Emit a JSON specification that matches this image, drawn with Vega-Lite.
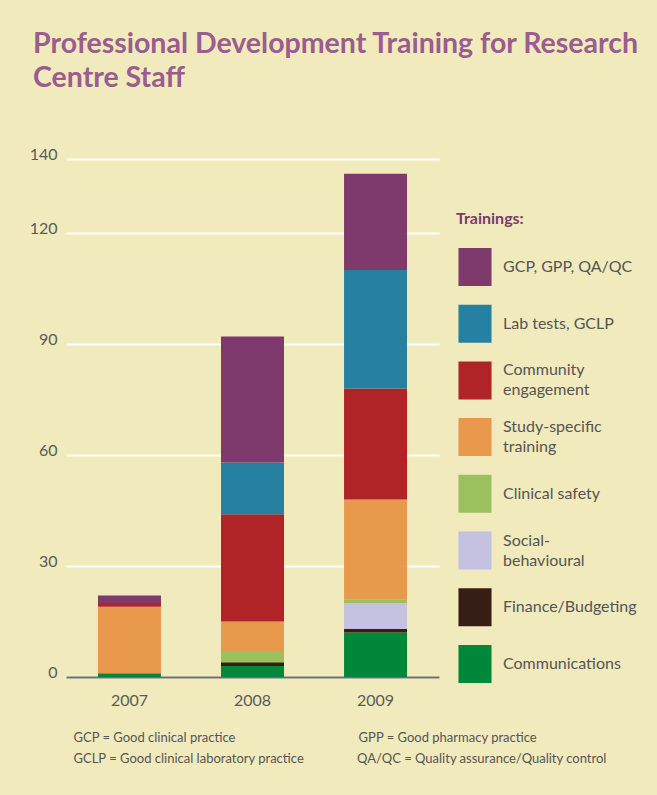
{
  "$schema": "https://vega.github.io/schema/vega-lite/v6.json",
  "width": 373,
  "height": 518,
  "autosize": {"type": "none"},
  "padding": {"left": 66, "top": 159, "right": 218, "bottom": 118},
  "background": "#F1EABD",
  "title": {
    "text": ["Professional Development Training for Research", "Centre Staff"],
    "anchor": "start",
    "frame": "group",
    "dx": -33,
    "offset": 54,
    "font": "Lato",
    "fontSize": 28.5,
    "fontWeight": "bold",
    "color": "#9B5C8F",
    "lineHeight": 34
  },
  "data": {
    "values": [
      {"year": "2007", "training": "Communications", "count": 1},
      {"year": "2007", "training": "Finance/Budgeting", "count": 0},
      {"year": "2007", "training": "Social-behavioural", "count": 0},
      {"year": "2007", "training": "Clinical safety", "count": 0},
      {"year": "2007", "training": "Study-specific training", "count": 18},
      {"year": "2007", "training": "Community engagement", "count": 1},
      {"year": "2007", "training": "Lab tests, GCLP", "count": 0},
      {"year": "2007", "training": "GCP, GPP, QA/QC", "count": 2},
      {"year": "2008", "training": "Communications", "count": 3},
      {"year": "2008", "training": "Finance/Budgeting", "count": 1},
      {"year": "2008", "training": "Social-behavioural", "count": 0},
      {"year": "2008", "training": "Clinical safety", "count": 3},
      {"year": "2008", "training": "Study-specific training", "count": 8},
      {"year": "2008", "training": "Community engagement", "count": 29},
      {"year": "2008", "training": "Lab tests, GCLP", "count": 14},
      {"year": "2008", "training": "GCP, GPP, QA/QC", "count": 34},
      {"year": "2009", "training": "Communications", "count": 12},
      {"year": "2009", "training": "Finance/Budgeting", "count": 1},
      {"year": "2009", "training": "Social-behavioural", "count": 7},
      {"year": "2009", "training": "Clinical safety", "count": 1},
      {"year": "2009", "training": "Study-specific training", "count": 27},
      {"year": "2009", "training": "Community engagement", "count": 30},
      {"year": "2009", "training": "Lab tests, GCLP", "count": 32},
      {"year": "2009", "training": "GCP, GPP, QA/QC", "count": 26}
    ]
  },
  "transform": [
    {"calculate": "indexof(['Communications','Finance/Budgeting','Social-behavioural','Clinical safety','Study-specific training','Community engagement','Lab tests, GCLP','GCP, GPP, QA/QC'], datum.training)", "as": "stackOrder"}
  ],
  "mark": {"type": "bar"},
  "encoding": {
    "x": {
      "field": "year",
      "type": "nominal",
      "scale": {"paddingInner": 0.488, "paddingOuter": 0.26},
      "axis": {
        "title": ["GCP = Good clinical practice\u00a0\u00a0\u00a0\u00a0\u00a0\u00a0\u00a0\u00a0\u00a0\u00a0\u00a0\u00a0\u00a0\u00a0\u00a0\u00a0\u00a0\u00a0\u00a0\u00a0\u00a0\u00a0\u00a0\u00a0\u00a0\u00a0\u00a0\u00a0\u00a0\u00a0\u00a0\u00a0\u00a0\u00a0\u00a0\u00a0\u00a0GPP = Good pharmacy practice", "GCLP = Good clinical laboratory practice\u00a0\u00a0\u00a0\u00a0\u00a0\u00a0\u00a0\u00a0\u00a0\u00a0\u00a0\u00a0\u00a0\u00a0\u00a0\u00a0QA/QC = Quality assurance/Quality control"],
        "labelAngle": 0,
        "labelFont": "Lato",
        "labelFontSize": 16,
        "labelColor": "#5a5a5a",
        "labelPadding": 15,
        "ticks": false,
        "grid": false,
        "domainColor": "#6d6d6d",
        "domainWidth": 2,
        "titleFont": "Lato",
        "titleFontSize": 13,
        "titleFontWeight": "normal",
        "titleColor": "#555555",
        "titleAnchor": "start",
        "titleAlign": "left",
        "titleBaseline": "top",
        "titleX": 7,
        "titleY": 54,
        "titleLineHeight": 21
      }
    },
    "y": {
      "field": "count",
      "type": "quantitative",
      "stack": "zero",
      "scale": {"domain": [0, 140]},
      "axis": {
        "title": null,
        "values": [0, 30, 60, 90, 120, 140],
        "grid": true,
        "gridColor": "white",
        "gridWidth": 2,
        "domain": false,
        "ticks": false,
        "labelFont": "Lato",
        "labelFontSize": 16,
        "labelColor": "#5a5a5a",
        "labelPadding": 9,
        "labelBaseline": "alphabetic"
      }
    },
    "color": {
      "field": "training",
      "type": "nominal",
      "scale": {
        "domain": ["GCP, GPP, QA/QC", "Lab tests, GCLP", "Community engagement", "Study-specific training", "Clinical safety", "Social-behavioural", "Finance/Budgeting", "Communications"],
        "range": ["#7E3A6D", "#2580A2", "#B02327", "#E9994C", "#9AC15D", "#C4C2E0", "#371E15", "#00873A"]
      },
      "legend": {
        "orient": "none",
        "legendX": 390,
        "legendY": 52,
        "padding": 0,
        "title": "Trainings:",
        "titleFont": "Lato",
        "titleFontSize": 16,
        "titleFontWeight": "bold",
        "titleColor": "#7B3A6B",
        "titlePadding": 21,
        "symbolType": "M-0.87,-1L0.87,-1L0.87,1L-0.87,1Z",
        "symbolSize": 1444,
        "symbolStrokeWidth": 0,
        "symbolOpacity": 1,
        "labelFont": "Lato",
        "labelFontSize": 16,
        "labelColor": "#555555",
        "labelOffset": 9,
        "labelLimit": 200,
        "rowPadding": 18.7,
        "labelExpr": "datum.label === 'Community engagement' ? ['Community', 'engagement'] : datum.label === 'Study-specific training' ? ['Study-specific', 'training'] : datum.label === 'Social-behavioural' ? ['Social-', 'behavioural'] : datum.label",
        "encode": {
          "labels": {
            "update": {
              "lineHeight": {"value": 20},
              "dy": {"signal": "indexof(['Community engagement','Study-specific training','Social-behavioural'], datum.value) >= 0 ? -10 : 0"}
            }
          }
        }
      }
    },
    "order": {"field": "stackOrder", "type": "quantitative", "sort": "ascending"}
  },
  "config": {"view": {"stroke": null}}
}
